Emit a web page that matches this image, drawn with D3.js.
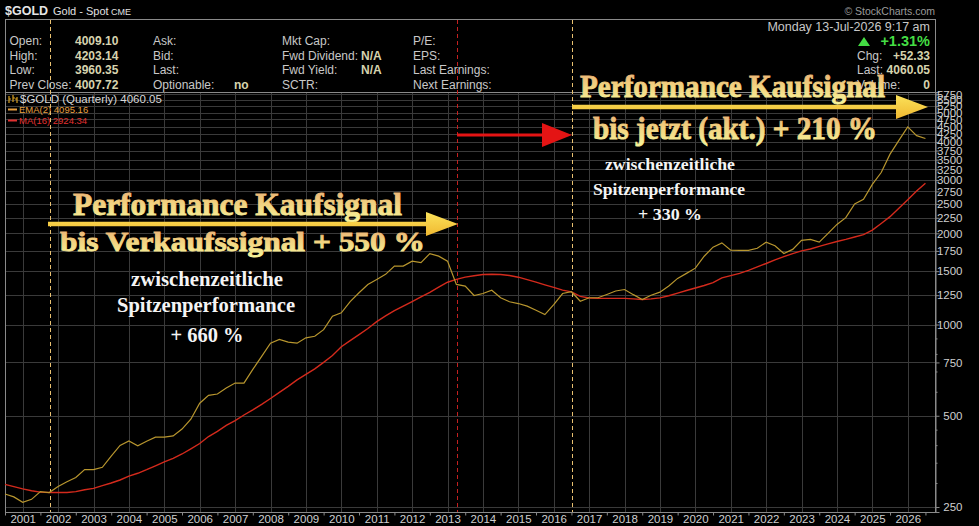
<!DOCTYPE html>
<html><head><meta charset="utf-8">
<script src="https://cdn.jsdelivr.net/npm/d3@7"></script>
<style>body{margin:0;background:#000;overflow:hidden}svg{display:block}</style>
</head><body>
<svg id="c" width="979" height="526"></svg>
<script>
// ---------- DATA ----------
const firstQuarter = 2000.5; // Q3 2000, quarterly points
const ema2 = [
 276,270,259,265,281,279,292,303,313,332,
 332,338,368,399,413,398,412,425,425,429,
 452,487,550,584,590,617,641,641,711,785,
 868,893,875,868,904,915,962,1065,1093,1190,
 1273,1356,1409,1464,1559,1559,1619,1600,1714,1682,
 1619,1356,1339,1247,1266,1298,1226,1189,1173,1150,
 1115,1079,1164,1266,1283,1194,1226,1226,1257,1290,
 1305,1255,1210,1249,1279,1340,1420,1475,1535,1680,
 1800,1860,1760,1757,1757,1785,1870,1820,1715,1770,
 1895,1911,1870,2000,2140,2253,2500,2590,2900,3175,
 3650,4050,4490,4200,4110];
const ma16 = [
 297,292,287,283,280,279,279,279,281,285,
 288,294,300,307,316,323,332,342,352,362,
 374,389,405,427,444,465,482,503,523,545,
 570,597,625,657,685,714,750,790,845,885,
 926,970,1022,1068,1111,1151,1191,1233,1277,1328,
 1379,1409,1434,1449,1463,1465,1462,1452,1433,1406,
 1380,1352,1326,1299,1282,1239,1224,1220,1220,1220,
 1220,1215,1210,1215,1225,1245,1270,1295,1320,1345,
 1375,1425,1450,1475,1510,1550,1590,1635,1675,1715,
 1750,1775,1810,1845,1880,1910,1945,1980,2050,2155,
 2270,2420,2580,2760,2924];
const yTickValues = [250,500,750,1000,1250,1500,1750,2000,2250,2500,2750,3000,3250,3500,3750,4000,4250,4500,4750,5000,5250,5500,5750];
const yMinorTicks = [300,350,400,450,600,700,800,900];
const yearTicks = d3.range(2001, 2027);
const signalLines = [{t:2001.77, c:"#e8c070"}, {t:2013.28, c:"#c42020"}, {t:2016.53, c:"#e8c070"}];
const headerLeft = [
 ["Open:", "4009.10", "Ask:", "", "Mkt Cap:", "", "P/E:"],
 ["High:", "4203.14", "Bid:", "", "Fwd Dividend:", "N/A", "EPS:"],
 ["Low:", "3960.35", "Last:", "", "Fwd Yield:", "N/A", "Last Earnings:"],
 ["Prev Close:", "4007.72", "Optionable:", "no", "SCTR:", "", "Next Earnings:"]];

// ---------- SETUP ----------
const svg = d3.select("#c");
const P = {l:5, r:935, t:92, b:512};
const x = d3.scaleLinear().domain([2000.5, 2026.77]).range([P.l, P.r]);
const y = d3.scaleLog().domain([240.7, 5852]).range([P.b, P.t]);
const sans = "'Liberation Sans', Arial, sans-serif";
const serif = "'Liberation Serif', 'Times New Roman', serif";

svg.append("rect").attr("width",979).attr("height",526).attr("fill","#000");
const defs = svg.append("defs");
const g1 = defs.append("linearGradient").attr("id","gt").attr("x1",0).attr("y1",0).attr("x2",0).attr("y2",1);
g1.append("stop").attr("offset","0%").attr("stop-color","#e9a774");
g1.append("stop").attr("offset","45%").attr("stop-color","#f1cf7e");
g1.append("stop").attr("offset","100%").attr("stop-color","#f7f59a");
const g2 = defs.append("linearGradient").attr("id","ga").attr("x1",0).attr("y1",0).attr("x2",0).attr("y2",1);
g2.append("stop").attr("offset","0%").attr("stop-color","#fbe25a");
g2.append("stop").attr("offset","100%").attr("stop-color","#f0b830");

// ---------- GRID ----------
const grid = svg.append("g");
grid.selectAll(".hg").data(yTickValues).join("line")
 .attr("x1",P.l).attr("x2",P.r)
 .attr("y1",d=>Math.round(y(d))+0.5).attr("y2",d=>Math.round(y(d))+0.5)
 .attr("stroke","#3a3a3a").attr("stroke-width",1);
grid.selectAll(".vg").data(yearTicks).join("line")
 .attr("x1",d=>Math.round(x(d))+0.5).attr("x2",d=>Math.round(x(d))+0.5)
 .attr("y1",P.t).attr("y2",P.b)
 .attr("stroke","#3a3a3a").attr("stroke-width",1);

// ---------- FRAME ----------
svg.append("rect").attr("x",P.l+0.5).attr("y",19.5).attr("width",P.r-P.l).attr("height",P.b-19)
 .attr("fill","none").attr("stroke","#8a8a8a");
svg.append("line").attr("x1",P.l).attr("x2",P.r).attr("y1",P.t+0.5).attr("y2",P.t+0.5).attr("stroke","#8a8a8a");

// ---------- AXES ----------
const ya = svg.append("g").attr("transform",`translate(${P.r+0.5},0)`)
 .call(d3.axisRight(y).tickValues(yTickValues).tickSize(4).tickFormat(d3.format("d")));
ya.select(".domain").attr("stroke","#8a8a8a");
ya.selectAll(".tick line").attr("stroke","#8a8a8a");
ya.selectAll(".tick text").attr("x",27).attr("text-anchor","end").attr("fill","#cfcfcf")
 .attr("font-family",sans).attr("font-size",11.5);
const yb = svg.append("g").attr("transform",`translate(${P.r+0.5},0)`)
 .call(d3.axisRight(y).tickValues(yMinorTicks).tickSize(2).tickFormat(""));
yb.select(".domain").remove();
yb.selectAll(".tick line").attr("stroke","#8a8a8a");

const xa = svg.append("g").attr("transform",`translate(0,${P.b+0.5})`)
 .call(d3.axisBottom(x).tickValues(yearTicks).tickSize(0).tickPadding(2).tickFormat(d3.format("d")));
xa.select(".domain").remove();
xa.selectAll(".tick text").attr("fill","#cfcfcf").attr("font-family",sans).attr("font-size",11.5);
const xb = svg.append("g").attr("transform",`translate(0,${P.b+0.5})`)
 .call(d3.axisBottom(x).tickValues(yearTicks.map(v=>v-0.5).concat([2026.5])).tickSize(3).tickFormat(""));
xb.select(".domain").remove();
xb.selectAll(".tick line").attr("stroke","#8a8a8a");

// ---------- SIGNAL LINES ----------
svg.selectAll(".sig").data(signalLines).join("line")
 .attr("x1",d=>Math.round(x(d.t))+0.5).attr("x2",d=>Math.round(x(d.t))+0.5)
 .attr("y1",20).attr("y2",P.b).attr("stroke",d=>d.c).attr("stroke-width",1)
 .attr("stroke-dasharray","4,3");

// ---------- SERIES ----------
const line = d3.line().x((d,i)=>x(firstQuarter+i*0.25)).y(d=>y(d));
svg.append("path").datum(ma16).attr("d",line).attr("fill","none").attr("stroke","#d42a1c").attr("stroke-width",1.4);
svg.append("path").datum(ema2).attr("d",line).attr("fill","none").attr("stroke","#b8962e").attr("stroke-width",1.2);

// ---------- TITLE / HEADER ----------
const T = (t,xx,yy,opt={})=>svg.append("text").attr("x",xx).attr("y",yy).text(t)
 .attr("font-family",opt.ff||sans).attr("font-size",opt.fs||12).attr("font-weight",opt.fw||"normal")
 .attr("fill",opt.c||"#c8c8c8").attr("text-anchor",opt.a||"start");
T("$GOLD",5,15,{fs:12.5,fw:"bold",c:"#e6e6e6"});
T("Gold - Spot",53,15,{fs:11,c:"#e0e0e0"});
T("CME",111,15,{fs:9,c:"#e0e0e0"});
T("\u00A9 StockCharts.com",935,15,{fs:10.5,c:"#9a9a9a",a:"end"});

const colX = [9.5,75,153,234,282,361,413];
const rowY = [45,59.5,74,88.5];
headerLeft.forEach((row,ri)=>{
 row.forEach((s,ci)=>{
  if(!s) return;
  const bold = (ci===1||ci===3||ci===5);
  T(s,colX[ci],rowY[ri],{fs:12,fw:bold?"bold":"normal",c:bold?"#d6d3ae":"#c8c8c8"});
 });
});
T("Monday  13-Jul-2026  9:17 am",930,31,{fs:12.5,a:"end"});
svg.append("path").attr("d","M858,46 L864,37 L870,46 Z").attr("fill","#44dd44");
T("+1.31%",930,46,{fs:14.5,fw:"bold",c:"#44dd44",a:"end"});
T("Chg:",857,59.5,{fs:12});
T("+52.33",930,59.5,{fs:12,fw:"bold",c:"#d6d3ae",a:"end"});
T("Last:",857,74,{fs:12});
T("4060.05",930,74,{fs:12,fw:"bold",c:"#d6d3ae",a:"end"});
T("Volume:",857,88.5,{fs:12});
T("0",930,88.5,{fs:12,fw:"bold",c:"#d6d3ae",a:"end"});

// legend
svg.append("path").attr("d","M9,96 v7 M9,99 h2 M13,95 v7 M13,98 h2 M17,97 v6 M15,99 h2").attr("stroke","#d8a020").attr("stroke-width",1.2);
T("$GOLD (Quarterly) 4060.05",20,103,{fs:11.5,c:"#d8d8d8"});
svg.append("line").attr("x1",8).attr("x2",17).attr("y1",109.5).attr("y2",109.5).attr("stroke","#e8a040").attr("stroke-width",2);
T("EMA(2) 4095.16",19,113,{fs:9.5,c:"#e8a040"});
svg.append("line").attr("x1",8).attr("x2",17).attr("y1",120.5).attr("y2",120.5).attr("stroke","#e03030").attr("stroke-width",2);
T("MA(16) 2924.34",19,124,{fs:9.5,c:"#e03030"});

// ---------- ANNOTATIONS ----------
function arrow(x0,x1,yy,th,hl,hh,fill){
 svg.append("path").attr("d",`M${x0},${yy-th/2} L${x1-hl},${yy-th/2} L${x1-hl},${yy-hh} L${x1},${yy} L${x1-hl},${yy+hh} L${x1-hl},${yy+th/2} L${x0},${yy+th/2} Z`)
  .attr("fill",fill);
}
function head(t,cx,yy,fs,w){
 svg.append("text").attr("x",cx).attr("y",yy).text(t).attr("text-anchor","middle")
  .attr("font-family",serif).attr("font-weight","bold").attr("font-size",fs)
  .attr("textLength",w).attr("lengthAdjust","spacingAndGlyphs")
  .attr("fill","url(#gt)").attr("stroke","url(#gt)").attr("stroke-width",0.9);
}
function white(t,cx,yy,fs,w){
 svg.append("text").attr("x",cx).attr("y",yy).text(t).attr("text-anchor","middle")
  .attr("font-family",serif).attr("font-weight","bold").attr("font-size",fs)
  .attr("textLength",w).attr("lengthAdjust","spacingAndGlyphs").attr("fill","#f4f4f4");
}
// left block
head("Performance Kaufsignal",237.5,215,32,329);
arrow(48,458,224,4.5,32,12,"url(#ga)");
head("bis Verkaufssignal + 550 %",242.5,251,28,365);
white("zwischenzeitliche",207,286,20,152);
white("Spitzenperformance",206,312,20,178);
white("+ 660 %",207,342,20,73);
// right block
head("Performance Kaufsignal",732.5,97,32,305);
arrow(572,928,107,4.5,32,12,"url(#ga)");
head("bis jetzt (akt.) + 210 %",735,139,32,284);
white("zwischenzeitliche",670,170,17,130);
white("Spitzenperformance",669,195,17,152);
white("+ 330 %",670,220,17,64);
// red arrow
arrow(457,572,135,3.2,30,12,"#e41414");
</script>
</body></html>
